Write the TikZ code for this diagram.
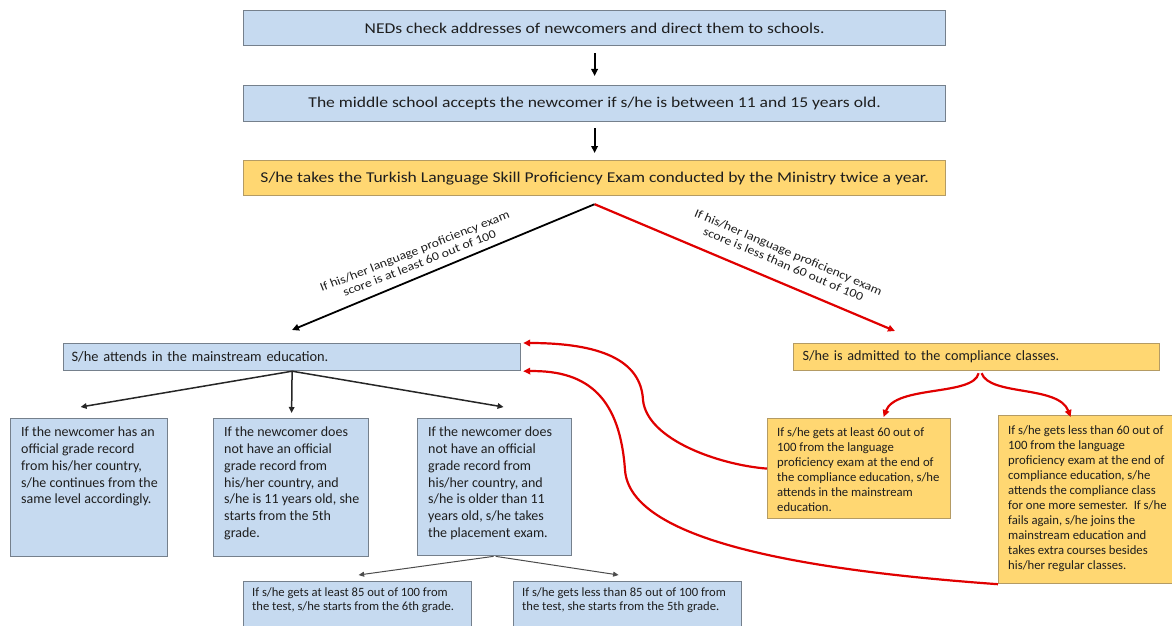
\documentclass[tikz,border=0pt]{standalone}
\usepackage{fontspec}
\setmainfont{Carlito}
\newfontfamily\widefont[FakeStretch=1.17]{Carlito}
\newfontfamily\lblfont[FakeStretch=1.15]{Carlito}
\usetikzlibrary{arrows.meta}
\definecolor{bluefill}{HTML}{C6DAF0}
\definecolor{blueline}{HTML}{75808C}
\definecolor{yelfill}{HTML}{FFD772}
\definecolor{yelline}{HTML}{B49B64}
\definecolor{redline}{HTML}{E00000}
\definecolor{txtc}{HTML}{1E1E1E}
\begin{document}
\begin{tikzpicture}[x=1pt,y=-1pt,
  every node/.style={text=txtc},
  bluebox/.style={draw=blueline, fill=bluefill, line width=1.2pt, inner sep=0pt, anchor=north west},
  yelbox/.style={draw=yelline, fill=yelfill, line width=1.2pt, inner sep=0pt, anchor=north west},
  topfont/.style={font=\widefont\fontsize{15}{18}\selectfont},
  bodytext/.style={anchor=north west, inner sep=0pt, align=left, font=\fontsize{14}{16.7}\selectfont},
  smalltext/.style={anchor=north west, inner sep=0pt, align=left, font=\fontsize{12.7}{15}\selectfont},
  tinytext/.style={anchor=north west, inner sep=0pt, align=left, font=\fontsize{12.6}{14}\selectfont},
  lbl/.style={inner sep=0pt, align=center, font=\lblfont\fontsize{12}{13}\selectfont},
  blkarrow/.style={draw=black, line width=1.8pt, -{Triangle[length=7pt,width=6.5pt]}},
  midarrow/.style={draw=black!85, line width=1.5pt, -{Triangle[length=6pt,width=5.5pt]}},
  thinarrow/.style={draw=black!70, line width=1pt, -{Triangle[length=5.5pt,width=5pt]}},
  redarrow/.style={draw=redline, line width=2.2pt, -{Triangle[length=7pt,width=6.5pt]}}
]
\useasboundingbox (0,0) rectangle (1172,626);

% top chain
\node[bluebox, topfont, minimum width=702pt, minimum height=35pt] (b1) at (243,10)
  {NEDs check addresses of newcomers and direct them to schools.};
\node[bluebox, topfont, minimum width=702pt, minimum height=36pt] (b2) at (243,85)
  {The middle school accepts the newcomer if s/he is between 11 and 15 years old.};
\node[yelbox, topfont, minimum width=702pt, minimum height=35pt] (b3) at (243,160)
  {S/he takes the Turkish Language Skill Proficiency Exam conducted by the Ministry twice a year.};

\draw[blkarrow, shorten <=7pt, shorten >=9pt] (b1) -- (b2);
\draw[blkarrow, shorten <=6pt, shorten >=7pt] (b2) -- (b3);

% second level
\node[bluebox, minimum width=456pt, minimum height=27pt, text width=441pt, inner xsep=8pt, align=left,
      font=\fontsize{14.4}{17}\selectfont] (ms) at (63,343) {S/he attends in the mainstream education.};
\node[yelbox, minimum width=364pt, minimum height=27pt, text width=348pt, inner xsep=9pt, align=left,
      font=\fontsize{14.2}{17}\selectfont] (cp) at (793,343) {S/he is admitted to the compliance classes.};

\coordinate (split) at ([yshift=-8pt]b3.south);
\coordinate (ltip) at (292,330);
\coordinate (rtip) at (895,331);
\draw[blkarrow] (split) -- (ltip);
\draw[redarrow] (split) -- (rtip);

\node[lbl, rotate=21.5] (llbl) at (417,257) {If his/her language proficiency exam\\score is at least 60 out of 100};
\node[lbl, rotate=-23] (rlbl) at (786,258) {If his/her language proficiency exam\\score is less than 60 out of 100};

% mainstream children
\node[bluebox, minimum width=157pt, minimum height=138pt] (A) at (10,418) {};
\node[bluebox, minimum width=155pt, minimum height=138pt] (B) at (213,418) {};
\node[bluebox, minimum width=154pt, minimum height=137pt] (C) at (417,418) {};
\node[bodytext] (At) at (21,427) {If the newcomer has an\\official grade record\\from his/her country,\\s/he continues from the\\same level accordingly.};
\node[bodytext] (Bt) at (224,427) {If the newcomer does\\not have an official\\grade record from\\his/her country, and\\s/he is 11 years old, she\\starts from the 5th\\grade.};
\node[bodytext] (Ct) at (428,427) {If the newcomer does\\not have an official\\grade record from\\his/her country, and\\s/he is older than 11\\years old, s/he takes\\the placement exam.};

\draw[midarrow] (ms.south) -- ([shift={(-8.5,-11)}]A.north);
\draw[midarrow] (ms.south) -- ([shift={(0.5,-5)}]B.north);
\draw[midarrow] (ms.south) -- ([shift={(9,-11)}]C.north);

% bottom boxes
\node[bluebox, minimum width=228pt, minimum height=50pt] (BL) at (243,581) {};
\node[bluebox, minimum width=228pt, minimum height=50pt] (BR) at (513,581) {};
\node[tinytext] (BLt) at (252,587.5) {If s/he gets at least 85 out of 100 from\\the test, s/he starts from the 6th grade.};
\node[tinytext] (BRt) at (522,587.5) {If s/he gets less than 85 out of 100 from\\the test, she starts from the 5th grade.};
\draw[thinarrow, shorten <=1pt] (C.south) -- ([shift={(1,-6)}]BL.north);
\draw[thinarrow, shorten <=1pt] (C.south) -- ([shift={(-9,-6)}]BR.north);

% compliance children
\node[yelbox, minimum width=183pt, minimum height=100pt] (R1) at (767,418) {};
\node[yelbox, minimum width=174pt, minimum height=168pt] (R2) at (998,415) {};
\node[smalltext] (R1t) at (777,427.5) {If s/he gets at least 60 out of\\100 from the language\\proficiency exam at the end of\\the compliance education, s/he\\attends in the mainstream\\education.};
\node[smalltext] (R2t) at (1008,425) {If s/he gets less than 60 out of\\100 from the language\\proficiency exam at the end of\\compliance education, s/he\\attends the compliance class\\for one more semester.\ \ If s/he\\fails again, s/he joins the\\mainstream education and\\takes extra courses besides\\his/her regular classes.};

\draw[redarrow] ([xshift=2pt,yshift=-2pt]cp.south) .. controls +(-5,23) and +(12,-32) .. ([shift={(24.5,-1)}]R1.north);
\draw[redarrow] ([xshift=5pt,yshift=-2pt]cp.south) .. controls +(8,23) and +(-12,-32) .. ([shift={(-15,2)}]R2.north);

% red feedback curves
\draw[redarrow] (R1.west) .. controls (720,465) and (647,440) .. (643,400)
  .. controls (641,360) and (600,343) .. ([xshift=2pt]ms.north east);
\draw[redarrow] (R2.south west) .. controls (800,570) and (630,540) .. (625,470)
  .. controls (620,400) and (590,370) .. ([xshift=2pt]ms.south east);
\end{tikzpicture}
\end{document}
